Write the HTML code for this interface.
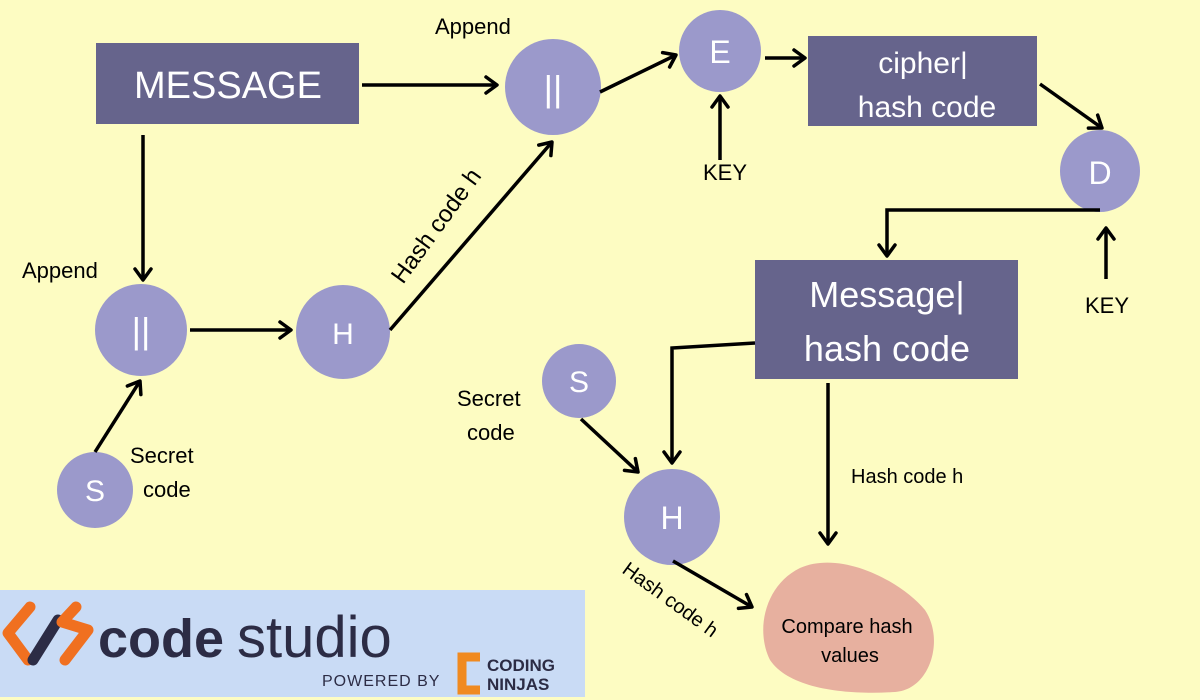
<!DOCTYPE html>
<html><head><meta charset="utf-8"><style>
html,body{margin:0;padding:0;width:1200px;height:700px;overflow:hidden;background:#fdfcc2}
svg{display:block;font-family:"Liberation Sans",sans-serif}
</style></head><body>
<svg width="1200" height="700" viewBox="0 0 1200 700">
<defs>
<marker id="a" viewBox="0 0 20 20" refX="16" refY="10" markerWidth="20" markerHeight="20" orient="auto" markerUnits="userSpaceOnUse" style="overflow:visible">
<path d="M5,2 L16,10 L5,18" fill="none" stroke="#000" stroke-width="3.5" stroke-linecap="round" stroke-linejoin="round"/>
</marker>
</defs>
<rect width="1200" height="700" fill="#fdfcc2"/>
<g fill="#66648c">
<rect x="96" y="43" width="263" height="81"/>
<rect x="808" y="36" width="229" height="90"/>
<rect x="755" y="260" width="263" height="119"/>
</g>
<g fill="#9b99cb">
<circle cx="553" cy="87" r="48"/>
<ellipse cx="720" cy="51" rx="41" ry="41"/>
<ellipse cx="1100" cy="171" rx="40" ry="41"/>
<circle cx="141" cy="330" r="46"/>
<circle cx="343" cy="332" r="47"/>
<circle cx="95" cy="490" r="38"/>
<circle cx="579" cy="381" r="37"/>
<circle cx="672" cy="517" r="48"/>
</g>
<path d="M800,568 C840,550 900,580 925,610 C945,640 930,690 895,692 C850,695 790,690 770,660 C755,630 765,585 800,568 Z" fill="#e7b09f"/>
<g stroke="#000" stroke-width="3.5" fill="none" marker-end="url(#a)">
<line x1="362" y1="85" x2="497" y2="85"/>
<line x1="143" y1="135" x2="143" y2="280"/>
<line x1="190" y1="330" x2="291" y2="330"/>
<line x1="95" y1="452" x2="140" y2="381"/>
<line x1="390" y1="330" x2="552" y2="142"/>
<line x1="600" y1="92" x2="676" y2="55"/>
<line x1="720" y1="160" x2="720" y2="96"/>
<line x1="765" y1="58" x2="805" y2="58"/>
<line x1="1040" y1="84" x2="1102" y2="128"/>
<polyline points="1100,210 887,210 887,256"/>
<line x1="1106" y1="279" x2="1106" y2="228"/>
<polyline points="755,343 672,348 672,463"/>
<line x1="581" y1="419" x2="638" y2="472"/>
<line x1="828" y1="383" x2="828" y2="544"/>
<line x1="673" y1="561" x2="752" y2="607"/>
</g>
<g fill="#fff" text-anchor="middle">
<text x="228" y="98" font-size="38">MESSAGE</text>
<text x="923" y="73" font-size="30">cipher|</text>
<text x="927" y="117" font-size="30">hash code</text>
<text x="887" y="307" font-size="36">Message|</text>
<text x="887" y="361" font-size="36">hash code</text>
<text x="553" y="101" font-size="36">||</text>
<text x="720" y="63" font-size="32">E</text>
<text x="1100" y="184" font-size="32">D</text>
<text x="141" y="343" font-size="36">||</text>
<text x="343" y="344" font-size="30">H</text>
<text x="95" y="501" font-size="30">S</text>
<text x="579" y="392" font-size="30">S</text>
<text x="672" y="529" font-size="32">H</text>
</g>
<g fill="#000" font-size="22">
<text x="435" y="34">Append</text>
<text x="22" y="278">Append</text>
<text x="703" y="180">KEY</text>
<text x="1085" y="313">KEY</text>
<text x="130" y="463">Secret</text>
<text x="143" y="497">code</text>
<text x="457" y="406">Secret</text>
<text x="467" y="440">code</text>
<text x="851" y="483" font-size="20">Hash code h</text>
<text x="0" y="0" font-size="24" transform="translate(403,285) rotate(-54)">Hash code h</text>
<text x="0" y="0" font-size="20" transform="translate(621,572) rotate(36)">Hash code h</text>
<text x="847" y="633" font-size="20" text-anchor="middle">Compare hash</text>
<text x="850" y="662" font-size="20" text-anchor="middle">values</text>
</g>
<rect x="0" y="590" width="585" height="107" fill="#c9dbf5"/>
<path d="M30,607 L8,633 L28,660" fill="none" stroke="#f07020" stroke-width="11" stroke-linecap="round" stroke-linejoin="round"/>
<path d="M33,660 L58,620" stroke="#2c2c45" stroke-width="11" stroke-linecap="round"/>
<path d="M76,607 L62,622 L88,630 L65,660" fill="none" stroke="#f07020" stroke-width="11" stroke-linecap="round" stroke-linejoin="round"/>
<text x="98" y="657" font-size="54" font-weight="bold" fill="#2c2c45">code</text>
<text x="237" y="657" font-size="58" fill="#2c2c45">studio</text>
<text x="322" y="686" font-size="16" fill="#2c2c45" letter-spacing="1">POWERED BY</text>
<path d="M480,657 L462,657 L462,690 L480,690" fill="none" stroke="#f08a20" stroke-width="9"/>
<text x="487" y="671" font-size="17" font-weight="bold" fill="#2c2c45">CODING</text>
<text x="487" y="690" font-size="17" font-weight="bold" fill="#2c2c45">NINJAS</text>
</svg>
</body></html>
